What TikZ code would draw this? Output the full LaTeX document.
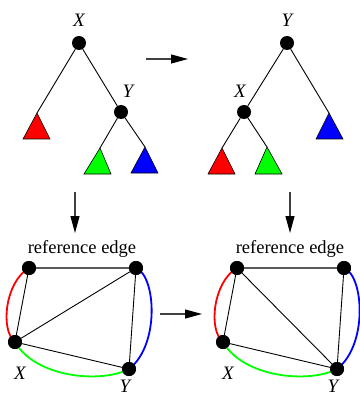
\documentclass[tikz,border=0pt]{standalone}
\usepackage{fontspec}
\setmainfont{Liberation Serif}
\usetikzlibrary{arrows.meta}
\begin{document}
\begin{tikzpicture}[x=1pt,y=-1pt,
  vtx/.style={circle,fill=black,inner sep=0pt,minimum size=14pt},
  linkline/.style={line width=0.9pt,black},
  refline/.style={line width=1.2pt,black!65},
  curveline/.style={line width=1.8pt},
  tri/.style={draw=black,line width=0.6pt,line join=miter},
  lab/.style={font=\fontsize{19}{20}\selectfont\itshape,inner sep=0pt},
  txt/.style={font=\fontsize{18.5}{20}\selectfont,inner sep=0pt},
  bigarrow/.style={line width=1.1pt,black!75,-{Triangle[length=17pt,width=9pt,color=black]}}
]
\useasboundingbox (0,0) rectangle (359,395);

% ---------- top left tree ----------
\node[vtx] (lx) at (79,43) {};
\node[lab] (lxl) at (79,20) {X};
\node[vtx] (ly) at (121,112) {};
\node[lab] (lyl) at (128,91) {Y};
\coordinate (lra) at (37,113);
\coordinate (lga) at (100,148);
\coordinate (lba) at (145,147);
\draw[tri,fill=red] (lra) -- (50,139) -- (23,139) -- cycle;
\draw[tri,fill=green] (lga) -- (111,174) -- (84,174) -- cycle;
\draw[tri,fill=blue] (lba) -- (158,173) -- (131,173) -- cycle;
\draw[linkline] (lx) -- (lra);
\draw[linkline] (lx) -- (ly);
\draw[linkline] (ly) -- (lga);
\draw[linkline] (ly) -- (lba);

% ---------- top right tree ----------
\node[vtx] (ry) at (287,43) {};
\node[lab] (ryl) at (287,20) {Y};
\node[vtx] (rx) at (244,112) {};
\node[lab] (rxl) at (240,91) {X};
\coordinate (rba) at (329,113);
\coordinate (rra) at (222,148);
\coordinate (rga) at (267,147);
\draw[tri,fill=blue] (rba) -- (343,139) -- (316,139) -- cycle;
\draw[tri,fill=red] (rra) -- (235,174) -- (208,174) -- cycle;
\draw[tri,fill=green] (rga) -- (282,174) -- (255,174) -- cycle;
\draw[linkline] (ry) -- (rba);
\draw[linkline] (ry) -- (rx);
\draw[linkline] (rx) -- (rra);
\draw[linkline] (rx) -- (rga);

% ---------- arrows ----------
\coordinate (a1s) at (146,59);
\coordinate (a1e) at (188,59);
\draw[bigarrow] (a1s) -- (a1e);
\coordinate (a2s) at (75,192);
\coordinate (a2e) at (75,233);
\draw[bigarrow] (a2s) -- (a2e);
\coordinate (a3s) at (290,192);
\coordinate (a3e) at (290,233);
\draw[bigarrow] (a3s) -- (a3e);
\coordinate (a4s) at (160,314);
\coordinate (a4e) at (202,314);
\draw[bigarrow] (a4s) -- (a4e);

% ---------- bottom left graph ----------
\node[txt] (lref) at (82,249) {reference edge};
\node[vtx] (la) at (29,268) {};
\node[vtx] (lb) at (136,268) {};
\node[vtx] (lX) at (15,342) {};
\node[vtx] (lY) at (129,369) {};
\node[lab] (lXl) at (20,373) {X};
\node[lab] (lYl) at (125,386) {Y};
\draw[curveline,red] (la.center) .. controls (5,282) and (0,330) .. (lX.center);
\draw[curveline,blue] (lb.center) .. controls (156,276) and (160,345) .. (lY.center);
\draw[curveline,green] (lX.center) .. controls (35,377) and (100,384) .. (lY.center);
\draw[refline] (la) -- (lb);
\draw[linkline] (la) -- (lX);
\draw[linkline] (lX) -- (lb);
\draw[linkline] (lX) -- (lY);
\draw[linkline] (lb) -- (lY);
\node[vtx] at (la) {};
\node[vtx] at (lb) {};
\node[vtx] at (lX) {};
\node[vtx] at (lY) {};

% ---------- bottom right graph ----------
\node[txt] (rref) at (290,249) {reference edge};
\node[vtx] (ra) at (237,268) {};
\node[vtx] (rb) at (344,268) {};
\node[vtx] (rX) at (223,342) {};
\node[vtx] (rY) at (337,369) {};
\node[lab] (rXl) at (228,373) {X};
\node[lab] (rYl) at (333,386) {Y};
\draw[curveline,red] (ra.center) .. controls (213,282) and (208,330) .. (rX.center);
\draw[curveline,blue] (rb.center) .. controls (364,276) and (368,345) .. (rY.center);
\draw[curveline,green] (rX.center) .. controls (243,377) and (308,384) .. (rY.center);
\draw[refline] (ra) -- (rb);
\draw[linkline] (ra) -- (rX);
\draw[linkline] (ra) -- (rY);
\draw[linkline] (rX) -- (rY);
\draw[linkline] (rb) -- (rY);
\node[vtx] at (ra) {};
\node[vtx] at (rb) {};
\node[vtx] at (rX) {};
\node[vtx] at (rY) {};
\end{tikzpicture}
\end{document}
